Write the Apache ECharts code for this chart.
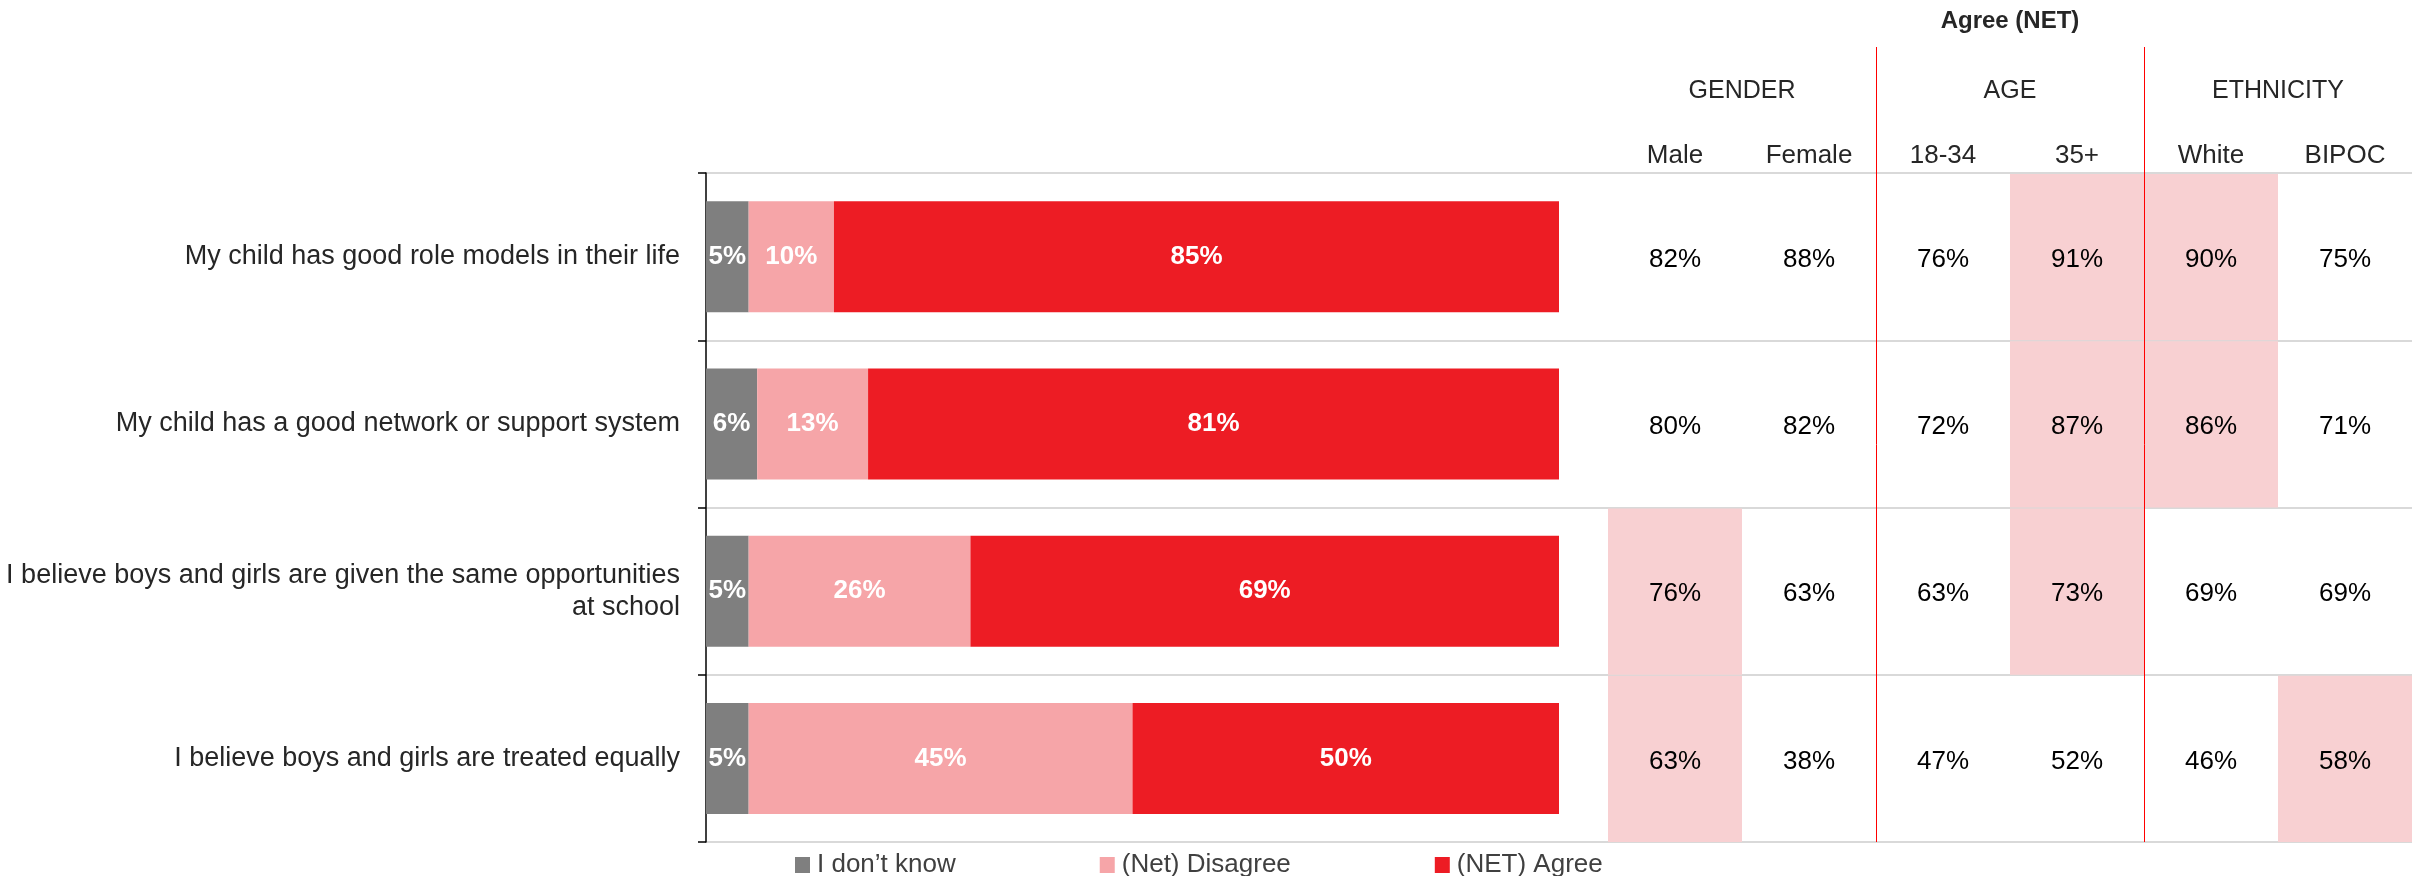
<!DOCTYPE html>
<html><head><meta charset="utf-8">
<script src="https://cdn.jsdelivr.net/npm/echarts@6/dist/echarts.min.js"></script>
<style>html,body{margin:0;padding:0;background:#fff}#c{width:2418px;height:876px}</style>
</head><body><div id="c"></div>
<script>
const statements = [
  'My child has good role models in their life',
  'My child has a good network or support system',
  'I believe boys and girls are given the same opportunities\nat school',
  'I believe boys and girls are treated equally'
];
const seriesNames = ['I don\u2019t know', '(Net) Disagree', '(NET) Agree'];
const dontKnow = [5, 6, 5, 5];
const disagree = [10, 13, 26, 45];
const agree = [85, 81, 69, 50];

const tableTitle = 'Agree (NET)';
const groups = ['GENDER', 'AGE', 'ETHNICITY'];
const columns = ['Male', 'Female', '18-34', '35+', 'White', 'BIPOC'];
const male = [82, 80, 76, 63];
const female = [88, 82, 63, 38];
const age1834 = [76, 72, 63, 47];
const age35 = [91, 87, 73, 52];
const white = [90, 86, 69, 46];
const bipoc = [75, 71, 69, 58];
// shaded (highlighted) cells, per column
const hlMale = [0, 0, 1, 1];
const hlFemale = [0, 0, 0, 0];
const hl1834 = [0, 0, 0, 0];
const hl35 = [1, 1, 1, 0];
const hlWhite = [1, 1, 0, 0];
const hlBipoc = [0, 0, 0, 1];

const FONT = '"Liberation Sans", Arial, sans-serif';
const colVals = [male, female, age1834, age35, white, bipoc];
const colHl = [hlMale, hlFemale, hl1834, hl35, hlWhite, hlBipoc];
const tableData = [];
colVals.forEach((vals, ci) => vals.forEach((v, ri) => tableData.push([ci, ri, v, colHl[ci][ri]])));

const chart = echarts.init(document.getElementById('c'), null, {renderer: 'canvas'});
const barLabel = {show: true, position: 'inside', formatter: '{c}%', color: '#fff', fontWeight: 'bold', fontSize: 26, fontFamily: FONT};

chart.setOption({
  animation: false,
  backgroundColor: '#fff',
  textStyle: {fontFamily: FONT},
  legend: {
    left: 790, top: 845, itemWidth: 15, itemHeight: 16, itemGap: 144, icon: 'rect',
    data: seriesNames,
    textStyle: {fontSize: 26, color: '#404040', fontFamily: FONT, lineHeight: 30, padding: [0, 0, 0, 2]}
  },
  grid: [
    {left: 706, right: 6, top: 173, height: 669},
    {left: 1608, width: 804, top: 173, height: 669},
    {left: 1608, width: 804, top: 47, height: 795}
  ],
  xAxis: [
    {gridIndex: 0, type: 'value', min: 0, max: 200, show: false, splitLine: {show: false}},
    {gridIndex: 1, type: 'category', data: columns, position: 'top',
      axisLine: {show: false}, axisTick: {show: false}, splitLine: {show: false},
      axisLabel: {fontSize: 26, color: '#262626', margin: 2, lineHeight: 30, interval: 0, fontFamily: FONT}},
    {gridIndex: 2, type: 'category', data: groups, position: 'top', z: 5,
      name: tableTitle, nameLocation: 'middle', nameGap: 12,
      nameTextStyle: {fontSize: 24, fontWeight: 'bold', color: '#262626', lineHeight: 28, fontFamily: FONT},
      axisLine: {show: false}, axisTick: {show: false},
      axisLabel: {inside: true, margin: 29, fontSize: 25, color: '#262626', lineHeight: 30, interval: 0, fontFamily: FONT},
      splitLine: {show: true, interval: 0, showMinLine: false, showMaxLine: false, lineStyle: {color: '#FF0000', width: 1}}}
  ],
  yAxis: [
    {gridIndex: 0, type: 'category', data: statements, inverse: true,
      axisLine: {show: true, lineStyle: {color: '#000', width: 1.5}},
      axisTick: {show: true, length: 8, interval: 0, lineStyle: {color: '#000', width: 1.5}},
      splitLine: {show: true, interval: 0, lineStyle: {color: '#D9D9D9', width: 2}},
      axisLabel: {fontSize: 27, color: '#262626', margin: 26, lineHeight: 32, align: 'right', interval: 0, fontFamily: FONT}},
    {gridIndex: 1, type: 'category', data: statements, inverse: true, show: false},
    {gridIndex: 2, type: 'value', show: false, splitLine: {show: false}}
  ],
  series: [
    {name: seriesNames[0], type: 'bar', stack: 'a', xAxisIndex: 0, yAxisIndex: 0, data: dontKnow, barWidth: 111, color: '#7F7F7F', label: barLabel},
    {name: seriesNames[1], type: 'bar', stack: 'a', xAxisIndex: 0, yAxisIndex: 0, data: disagree, barWidth: 111, color: '#F6A5A8', label: barLabel},
    {name: seriesNames[2], type: 'bar', stack: 'a', xAxisIndex: 0, yAxisIndex: 0, data: agree, barWidth: 111, color: '#ED1C24', label: barLabel},
    {type: 'custom', xAxisIndex: 1, yAxisIndex: 1, data: tableData, encode: {x: 0, y: 1}, z: 2,
      renderItem: function (params, api) {
        const c = api.coord([api.value(0), api.value(1)]);
        const s = api.size([1, 1]);
        const children = [];
        if (api.value(3)) {
          children.push({type: 'rect', shape: {x: c[0] - s[0] / 2, y: c[1] - s[1] / 2 + 1, width: s[0], height: s[1] - 1}, style: {fill: '#F8D0D2'}});
        }
        children.push({type: 'text', style: {text: api.value(2) + '%', x: c[0], y: c[1] + 3, align: 'center', verticalAlign: 'middle', font: '26px ' + FONT, fill: '#000'}});
        return {type: 'group', children: children};
      }}
  ]
});
</script></body></html>
